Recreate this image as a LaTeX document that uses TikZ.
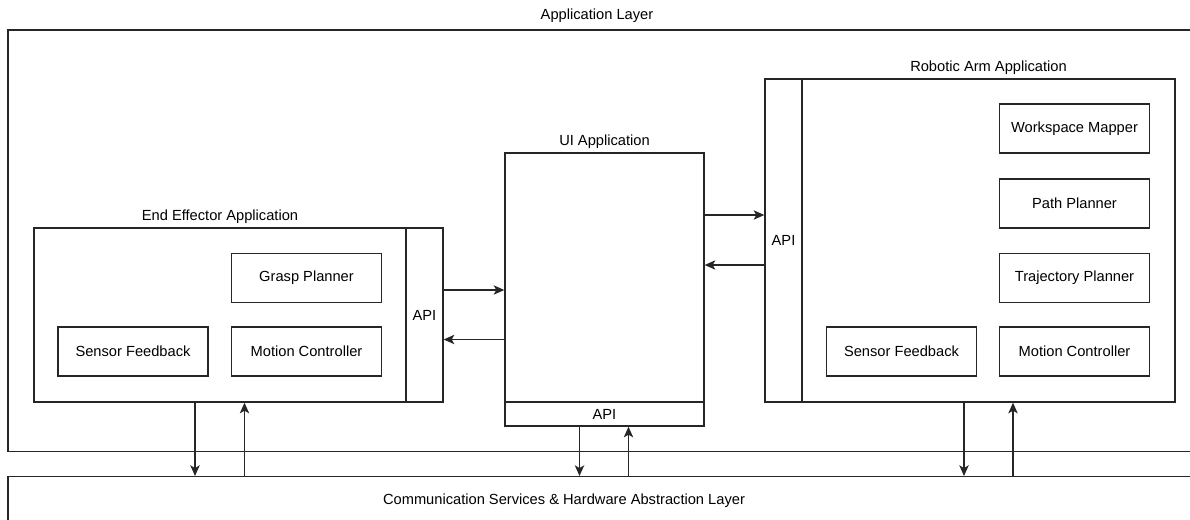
\documentclass[tikz,border=0pt]{standalone}
\usepackage{fontspec}
\setmainfont{Liberation Sans}
\usetikzlibrary{arrows.meta}

\begin{document}
\begin{tikzpicture}[x=0.75pt,y=-0.75pt,font=\fontsize{11}{13}\selectfont,
    frame/.style={draw=black!85,line width=1pt,inner sep=0pt},
    box/.style={frame,minimum width=112.5pt,minimum height=36.75pt},
    title/.style={anchor=south,inner sep=3pt},
    flow/.style={-{Stealth[length=8pt,width=7pt,inset=2pt]},draw=black!85,line width=1pt}]
  \useasboundingbox (0,0) rectangle (1190,519);
  % layers
  \node[frame,minimum width=916.5pt,minimum height=316.3pt] (app) at (619,240.85) {};
  \node (applbl) at (597,16) {Application Layer};
  \node[frame,minimum width=916.5pt,minimum height=65pt] (hal) at (619,520) {};
  \node (hallbl) at (564,501) {Communication Services \& Hardware Abstraction Layer};
  % end effector application
  \node[frame,minimum width=279pt,minimum height=130.5pt] (ee) at (220,315) {};
  \node[frame,minimum width=27.75pt,minimum height=130.5pt] (eeapi) at (424.5,315) {API};
  \node[title] (eelbl) at (ee.north) {End Effector Application};
  \node[box] (eegp) at (306.5,278) {Grasp Planner};
  \node[box] (eesf) at (133,351.5) {Sensor Feedback};
  \node[box] (eemc) at (306.5,351.5) {Motion Controller};
  % ui application
  \node[frame,minimum width=149.25pt,minimum height=186.75pt] (ui) at (604.5,277.5) {};
  \node[frame,minimum width=149.25pt,minimum height=18pt] (uiapi) at (604.5,414) {API};
  \node[title] (uilbl) at (ui.north) {UI Application};
  % robotic arm application
  \node[frame,minimum width=279.75pt,minimum height=242.25pt] (ra) at (988.5,240.5) {};
  \node[frame,minimum width=27.75pt,minimum height=242.25pt] (raapi) at (783.5,240.5) {API};
  \node[title] (ralbl) at (ra.north) {Robotic Arm Application};
  \node[box] (rawm) at (1074.5,128.5) {Workspace Mapper};
  \node[box] (rapp) at (1074.5,203.5) {Path Planner};
  \node[box] (ratp) at (1074.5,278) {Trajectory Planner};
  \node[box] (rasf) at (901.5,351.5) {Sensor Feedback};
  \node[box] (ramc) at (1074.5,351.5) {Motion Controller};
  % api links
  \draw[flow] (eeapi.east |- 0,290) -- (ui.west |- 0,290);
  \draw[flow] (ui.west |- 0,339.5) -- (eeapi.east |- 0,339.5);
  \draw[flow] (ui.east |- 0,215) -- (raapi.west |- 0,215);
  \draw[flow] (raapi.west |- 0,265) -- (ui.east |- 0,265);
  % links to the lower layer
  \foreach \src/\xd/\xu in {ee/195/244.5,uiapi/579.5/628.5,ra/964/1013} {
      \draw[flow] (\xd,0 |- \src.south) -- (\xd,0 |- hal.north);
      \draw[flow] (\xu,0 |- hal.north) -- (\xu,0 |- \src.south);
  }
\end{tikzpicture}
\end{document}
